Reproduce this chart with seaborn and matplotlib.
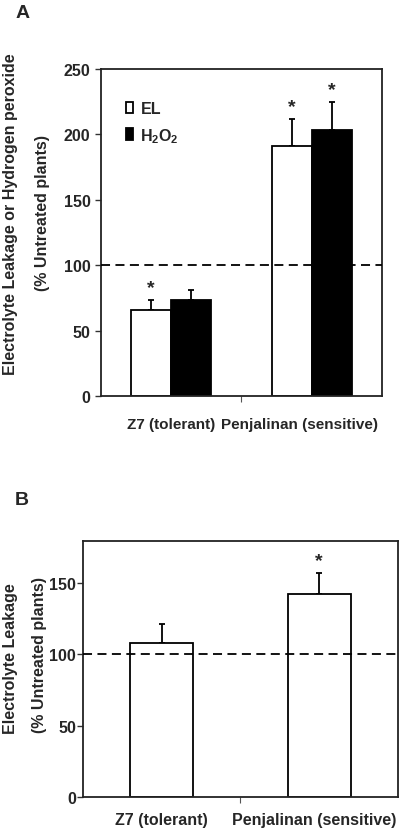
import numpy as np
import pandas as pd
import matplotlib
matplotlib.use("Agg")
import matplotlib.pyplot as plt
import matplotlib.ticker as ticker
import seaborn as sns

# panel A data
lines = ['Z7 (tolerant)', 'Penjalinan (sensitive)']
treatments = ['EL', r'$\mathbf{H_2O_2}$']
a_el = [66, 191]
a_el_err = [7.5, 21]
a_h2o2 = [73.5, 203]
a_h2o2_err = [7.5, 22]
a_el_star = [True, True]
a_h2o2_star = [False, True]
a_yticks = [0, 50, 100, 150, 200, 250]

# panel B data
b_el = [108, 142.5]
b_el_err = [13.5, 15]
b_el_star = [False, True]
b_yticks = [0, 50, 100, 150]

sns.set_style('ticks')
plt.rcParams['font.family'] = ['Liberation Sans', 'DejaVu Sans']
plt.rcParams['font.weight'] = 'bold'
plt.rcParams['mathtext.fontset'] = 'custom'
plt.rcParams['mathtext.rm'] = 'Liberation Sans:bold'
plt.rcParams['mathtext.bf'] = 'Liberation Sans:bold'
plt.rcParams['mathtext.it'] = 'Liberation Sans:bold'

FS = 11.5
LW = 1.3

fig = plt.figure(figsize=(4.04, 8.37), dpi=100)
axA = fig.add_axes([0.25, 0.5257, 0.6955, 0.3907])
axB = fig.add_axes([0.2054, 0.047, 0.7797, 0.3058])


def style_axes(ax, ymax, yticks, pad):
    ax.set_xlim(-0.5, 1.5)
    ax.set_ylim(0, ymax)
    ax.set_yticks(yticks)
    ax.set_yticklabels([str(t) for t in yticks], fontsize=FS, fontweight='bold')
    ax.set_xticks([])
    ax.xaxis.set_minor_locator(ticker.FixedLocator([0.5]))
    ax.tick_params(axis='x', which='minor', length=4, width=0.8, color='#555555')
    ax.tick_params(axis='y', length=4, width=1, pad=pad, color='#333333')
    for sp in ax.spines.values():
        sp.set_visible(True)
        sp.set_linewidth(LW)
        sp.set_color('#222222')
    ax.axhline(100, color='black', lw=LW, ls=(0, (5, 3)), zorder=5)
    ax.set_xlabel('')
    ax.set_ylabel('')


def add_errors(ax, patches, vals, errs, stars):
    for p, v, e, s in zip(patches, vals, errs, stars):
        xc = p.get_x() + p.get_width() / 2
        ax.errorbar(xc, v, yerr=[[0], [e]], fmt='none', ecolor='black',
                    elinewidth=LW, capsize=2.5, capthick=LW, zorder=1)
        if s:
            ax.annotate('*', (xc, v + e), xytext=(0, 9), textcoords='offset points',
                        ha='center', va='center', fontsize=14, fontweight='bold')


# ---- panel A
dfA = pd.DataFrame({
    'line': lines * 2,
    'treatment': [treatments[0]] * 2 + [treatments[1]] * 2,
    'value': a_el + a_h2o2,
})
sns.barplot(data=dfA, x='line', y='value', hue='treatment', order=lines,
            hue_order=treatments, palette={treatments[0]: 'white', treatments[1]: 'black'},
            width=0.57, edgecolor='black', linewidth=LW, errorbar=None, ax=axA, zorder=2)
bars = [p for p in axA.patches if p.get_height() > 0]
el_bars = sorted(bars[:2], key=lambda p: p.get_x())
h2_bars = sorted(bars[2:4], key=lambda p: p.get_x())
add_errors(axA, el_bars, a_el, a_el_err, a_el_star)
add_errors(axA, h2_bars, a_h2o2, a_h2o2_err, a_h2o2_star)
style_axes(axA, 250, a_yticks, 3.5)
leg = axA.legend(loc='upper left', bbox_to_anchor=(0.038, 0.946), frameon=False,
                 handlelength=0.45, handleheight=0.75, handletextpad=0.45,
                 labelspacing=0.62, prop={'weight': 'bold', 'size': FS})
for t in leg.get_texts():
    t.set_fontweight('bold')
for x, lab in zip([0, 0.915], lines):
    axA.text(x, -0.085, lab, transform=axA.get_xaxis_transform(), ha='center',
             va='center', fontsize=11, fontweight='bold')

# ---- panel B
dfB = pd.DataFrame({'line': lines, 'value': b_el})
sns.barplot(data=dfB, x='line', y='value', order=lines, color='white',
            width=0.40, edgecolor='black', linewidth=LW, errorbar=None, ax=axB, zorder=2)
barsB = sorted([p for p in axB.patches if p.get_height() > 0], key=lambda p: p.get_x())
add_errors(axB, barsB, b_el, b_el_err, b_el_star)
style_axes(axB, 180, b_yticks, 1.0)
for x, lab in zip([0, 0.97], lines):
    axB.text(x, -0.09, lab, transform=axB.get_xaxis_transform(), ha='center',
             va='center', fontsize=FS, fontweight='bold')

# axis titles and panel letters
fig.text(0.0248, 0.7443, 'Electrolyte Leakage or Hydrogen peroxide', rotation=90,
         ha='center', va='center', fontsize=FS, fontweight='bold')
fig.text(0.1064, 0.7455, '(% Untreated plants)', rotation=90,
         ha='center', va='center', fontsize=FS, fontweight='bold')
fig.text(0.0272, 0.2127, 'Electrolyte Leakage', rotation=90,
         ha='center', va='center', fontsize=FS, fontweight='bold')
fig.text(0.099, 0.2174, '(% Untreated plants)', rotation=90,
         ha='center', va='center', fontsize=FS, fontweight='bold')
fig.text(0.0557, 0.9839, 'A', ha='center', va='center', fontsize=14, fontweight='bold')
fig.text(0.0545, 0.4026, 'B', ha='center', va='center', fontsize=14, fontweight='bold')

fig.savefig('out.png', dpi=100)
